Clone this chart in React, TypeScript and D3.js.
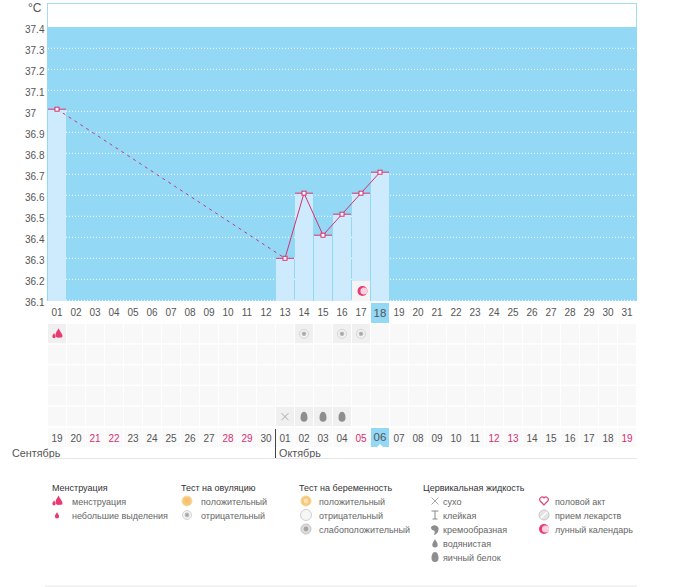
import { useEffect, useRef } from "react";
import * as d3 from "d3";

const tempTicks = [37.4, 37.3, 37.2, 37.1, 37, 36.9, 36.8, 36.7, 36.6, 36.5, 36.4, 36.3, 36.2, 36.1];
const cycleDays = d3.range(1, 32).map((d) => String(d).padStart(2, "0"));
const calendarDates = ["19", "20", "21", "22", "23", "24", "25", "26", "27", "28", "29", "30",
  "01", "02", "03", "04", "05", "06", "07", "08", "09", "10", "11", "12", "13", "14", "15", "16", "17", "18", "19"];
const redDates = [2, 3, 9, 10, 16, 23, 24, 30];

const tempDays = ["01", "13", "14", "15", "16", "17", "18"];
const tempValues = [37.01, 36.3, 36.61, 36.41, 36.51, 36.61, 36.71];
const today = "18";
const todayIndex = 17;

const rowKeys = ["r0", "r1", "r2", "r3", "r4"];
const cellMarks: [string, string, string][] = [
  ["01", "r0", "flow"],
  ["14", "r0", "ovuNeg"],
  ["16", "r0", "ovuNeg"],
  ["17", "r0", "ovuNeg"],
  ["13", "r4", "dry"],
  ["14", "r4", "egg"],
  ["15", "r4", "egg"],
  ["16", "r4", "egg"],
];

const legendGroups: { title: string; items: [string, string][] }[] = [
  { title: "Менструация", items: [["flow", "менструация"], ["spot", "небольшие выделения"]] },
  { title: "Тест на овуляцию", items: [["ovuPos", "положительный"], ["ovuNeg", "отрицательный"]] },
  { title: "Тест на беременность", items: [["pregPos", "положительный"], ["pregNeg", "отрицательный"], ["pregWeak", "слабоположительный"]] },
  { title: "Цервикальная жидкость", items: [["dry", "сухо"], ["sticky", "клейкая"], ["creamy", "кремообразная"], ["watery", "водянистая"], ["egg", "яичный белок"]] },
  { title: "", items: [["sex", "половой акт"], ["pill", "прием лекарств"], ["moon", "лунный календарь"]] },
];
const legendX = [[52, 57, 72], [181, 187, 201], [299, 306, 319], [423, 435, 443], [0, 544, 555]];

const PINK = "#d8306f";
const font = "'Liberation Sans', Arial, sans-serif";

function drawIcon(g: d3.Selection<SVGGElement, unknown, null, undefined>, kind: string) {
  const drop = (x: number, y: number, s: number, fill: string) =>
    g.append("path")
      .attr("transform", `translate(${x},${y}) scale(${s})`)
      .attr("d", "M0,-5C1,-2.5 3,-1 3,1.4A3,3 0 0 1 -3,1.4C-3,-1 -1,-2.5 0,-5Z")
      .attr("fill", fill);
  const rings = (r: number, outer: string, fill: string, core: string) => {
    g.append("circle").attr("r", r).attr("fill", fill).attr("stroke", outer);
    g.append("circle").attr("r", 2.4).attr("fill", core);
  };
  switch (kind) {
    case "flow":
      drop(1.5, -0.5, 1, "#ea3a72");
      drop(-3, 2, 0.55, "#ea3a72");
      drop(4, 1.5, 0.5, "#ea3a72");
      break;
    case "spot":
      drop(0, 0.5, 0.7, "#ea3a72");
      break;
    case "ovuPos":
      rings(5, "#f6dcae", "#f9c877", "#f7c16c");
      break;
    case "ovuNeg":
      rings(4.5, "#d4d4d4", "#f4f4f4", "#bdbdbd");
      g.append("circle").attr("r", 1).attr("fill", "#9c9c9c");
      break;
    case "pregPos":
      rings(5, "#f5d59c", "#f9c877", "#fbe3b6");
      break;
    case "pregNeg":
      g.append("circle").attr("r", 5.5).attr("fill", "#f6f6f6").attr("stroke", "#cfcfcf");
      break;
    case "pregWeak":
      rings(5, "#c4c4c4", "#dddddd", "#a5a5a5");
      break;
    case "dry":
      g.append("path").attr("d", "M-3.5,-3.5L3.5,3.5M3.5,-3.5L-3.5,3.5").attr("stroke", "#aaa").attr("fill", "none");
      break;
    case "sticky":
      g.append("path").attr("d", "M-3.5,-4H3.5M0,-4V4M-2.5,4H2.5").attr("stroke", "#888").attr("fill", "none");
      break;
    case "creamy":
      g.append("path").attr("d", "M-4,-2A4,3.5 0 1 1 3,2C3,4 1,5.5 -1,6C0,4 0,2 -1,1.5C-3,1.5 -4,0 -4,-2Z").attr("fill", "#8d8d8d");
      break;
    case "watery":
      drop(0, 0.5, 0.9, "#8d8d8d");
      break;
    case "egg":
      g.append("path").attr("d", "M0,-5C2.5,-5 3.5,-1.5 3.5,1A3.5,4 0 0 1 -3.5,1C-3.5,-1.5 -2.5,-5 0,-5Z").attr("fill", "#8e8e8e");
      break;
    case "sex":
      g.append("path").attr("d", "M0,4L-3.8,0A2.3,2.3 0 0 1 0,-3A2.3,2.3 0 0 1 3.8,0Z").attr("fill", "#fff").attr("stroke", "#e0457c").attr("stroke-width", 1.2);
      break;
    case "pill":
      g.append("circle").attr("r", 5).attr("fill", "#e4e4e4").attr("stroke", "#c8c8c8");
      g.append("path").attr("d", "M-3,3L3,-3").attr("stroke", "#fff").attr("stroke-width", 1.5);
      break;
    case "moon":
      g.append("circle").attr("r", 5).attr("fill", "#ea3a72");
      g.append("circle").attr("cx", 1.5).attr("r", 3.6).attr("fill", "#fbd3e0");
      break;
  }
}

export default function App() {
  const svgRef = useRef<SVGSVGElement>(null);
  const width = 675;
  const height = 587;

  useEffect(() => {
    const el = svgRef.current;
    if (!el) return;
    const svg = d3.select(el);
    svg.selectAll("*").remove();
    svg.attr("font-family", font);

    const x = d3.scaleBand().domain(cycleDays).range([47.5, 636.5]);
    const y = d3.scaleLinear().domain([37.4, 36.1]).range([27.3, 300.3]);
    const row = d3.scaleBand().domain(rowKeys).range([323.5, 427]);
    const cx = (d: string) => (x(d) ?? 0) + x.bandwidth() / 2;

    // frame and blue plot
    svg.append("rect").attr("x", 47.5).attr("y", 3.5).attr("width", 589).attr("height", 24)
      .attr("fill", "#fff").attr("stroke", "#a6dcf1");
    svg.append("rect").attr("x", 47).attr("y", 27).attr("width", 590).attr("height", 274).attr("fill", "#93d8f5");

    // grid
    svg.append("g").selectAll("line").data(tempTicks.slice(1)).join("line")
      .attr("x1", 48).attr("x2", 636)
      .attr("y1", (d) => y(d)).attr("y2", (d) => y(d))
      .attr("stroke", "#fff").attr("stroke-dasharray", "1,2");

    // y labels
    svg.append("g").selectAll("text").data(tempTicks).join("text")
      .attr("x", 25).attr("y", (d) => y(d) + 5.5)
      .attr("font-size", 10).attr("fill", "#555")
      .text((d) => String(d));
    svg.append("text").attr("x", 28).attr("y", 12).attr("font-size", 12).attr("fill", "#555").text("°C");

    // bars
    const temps = tempDays.map((d, i) => ({ day: d, value: tempValues[i] }));
    svg.append("g").selectAll("rect").data(temps).join("rect")
      .attr("x", (d) => (x(d.day) ?? 0) + 0.5)
      .attr("y", (d) => y(d.value))
      .attr("width", x.bandwidth() - 1)
      .attr("height", (d) => 301 - y(d.value))
      .attr("fill", "#cdebfd");

    // moon cell
    const moonCell = svg.append("g").attr("transform", `translate(${x("17")},281)`);
    moonCell.append("rect").attr("x", 0.5).attr("width", x.bandwidth() - 1).attr("height", 20).attr("fill", "#f5f4f5");
    drawIcon(moonCell.append("g").attr("transform", `translate(${x.bandwidth() / 2 + 1.5},10)`), "moon");

    // caps
    svg.append("g").selectAll("line").data(temps).join("line")
      .attr("x1", (d) => (x(d.day) ?? 0) + 0.5)
      .attr("x2", (d) => (x(d.day) ?? 0) + x.bandwidth() - 0.5)
      .attr("y1", (d) => y(d.value)).attr("y2", (d) => y(d.value))
      .attr("stroke", PINK);

    // temp line, dashed over the gap
    const line = d3.line<{ day: string; value: number }>().x((d) => cx(d.day)).y((d) => y(d.value));
    svg.append("path").attr("d", line(temps.slice(0, 2))).attr("fill", "none")
      .attr("stroke", "#c03a80").attr("stroke-dasharray", "3,4");
    svg.append("path").attr("d", line(temps.slice(1))).attr("fill", "none").attr("stroke", PINK);
    svg.append("g").selectAll("rect").data(temps).join("rect")
      .attr("x", (d) => cx(d.day) - 2).attr("y", (d) => y(d.value) - 2)
      .attr("width", 4).attr("height", 4)
      .attr("fill", "#fff").attr("stroke", PINK);

    // top day labels
    svg.append("rect").attr("x", x(today)! + 0.5).attr("y", 303).attr("width", x.bandwidth() - 1).attr("height", 20).attr("fill", "#93d8f5");
    svg.append("g").selectAll("text").data(cycleDays).join("text")
      .attr("x", cx).attr("y", (d) => (d === today ? 317 : 316))
      .attr("text-anchor", "middle")
      .attr("font-size", (d) => (d === today ? 11.5 : 10)).attr("fill", "#555")
      .text((d) => d);

    // symptom cells
    const cells = svg.append("g");
    for (const r of rowKeys) {
      for (const d of cycleDays) {
        const mark = cellMarks.find((m) => m[0] === d && m[1] === r);
        cells.append("rect")
          .attr("x", x(d)! + 0.5).attr("y", row(r)! + 0.5)
          .attr("width", x.bandwidth() - 1).attr("height", row.bandwidth() - 1.5)
          .attr("fill", mark ? "#f0f0f0" : "#f9f8f9");
      }
    }
    for (const [d, r, kind] of cellMarks) {
      drawIcon(cells.append("g").attr("transform", `translate(${cx(d)},${row(r)! + row.bandwidth() / 2})`), kind);
    }

    // calendar labels
    svg.append("g").selectAll("rect").data(cycleDays).join("rect")
      .attr("x", (d) => x(d)! + 0.5).attr("y", 428).attr("width", x.bandwidth() - 1).attr("height", 19)
      .attr("fill", (_, i) => (i === todayIndex ? "#93d8f5" : "#fbfafb"));
    const notchX = cx(cycleDays[todayIndex]);
    svg.append("path").attr("d", `M${notchX - 3},447L${notchX},444L${notchX + 3},447Z`).attr("fill", "#fff");
    svg.append("g").selectAll("text").data(calendarDates).join("text")
      .attr("x", (_, i) => cx(cycleDays[i])).attr("y", (_, i) => (i === todayIndex ? 441 : 442))
      .attr("text-anchor", "middle")
      .attr("font-size", (_, i) => (i === todayIndex ? 11.5 : 10))
      .attr("fill", (_, i) => (redDates.includes(i) ? PINK : "#555"))
      .text((d) => d);

    svg.append("line").attr("x1", x("13")!).attr("x2", x("13")!).attr("y1", 429).attr("y2", 458).attr("stroke", "#444");
    svg.append("text").attr("x", 12).attr("y", 456.5).attr("font-size", 10.8).attr("fill", "#555").text("Сентябрь");
    svg.append("text").attr("x", 279).attr("y", 456.5).attr("font-size", 10.8).attr("fill", "#555").text("Октябрь");
    svg.append("line").attr("x1", 45).attr("x2", 637).attr("y1", 458.5).attr("y2", 458.5).attr("stroke", "#e6e6e6");
    svg.append("line").attr("x1", 45).attr("x2", 637).attr("y1", 586).attr("y2", 586).attr("stroke", "#e6e6e6");

    // legend
    const rowY = d3.scaleLinear().domain([0, 1]).range([501, 515]);
    legendGroups.forEach((group, gi) => {
      const [tx, ix, lx] = legendX[gi];
      if (group.title) {
        svg.append("text").attr("x", tx).attr("y", 490.5).attr("font-size", 9).attr("fill", "#333").text(group.title);
      }
      group.items.forEach(([kind, label], i) => {
        drawIcon(svg.append("g").attr("transform", `translate(${ix},${rowY(i)})`), kind);
        svg.append("text").attr("x", lx).attr("y", rowY(i) + 3.5).attr("font-size", 9).attr("fill", "#666").text(label);
      });
    });
  }, []);

  return <svg ref={svgRef} width={width} height={height} style={{ position: "absolute", left: 0, top: 0 }} />;
}
